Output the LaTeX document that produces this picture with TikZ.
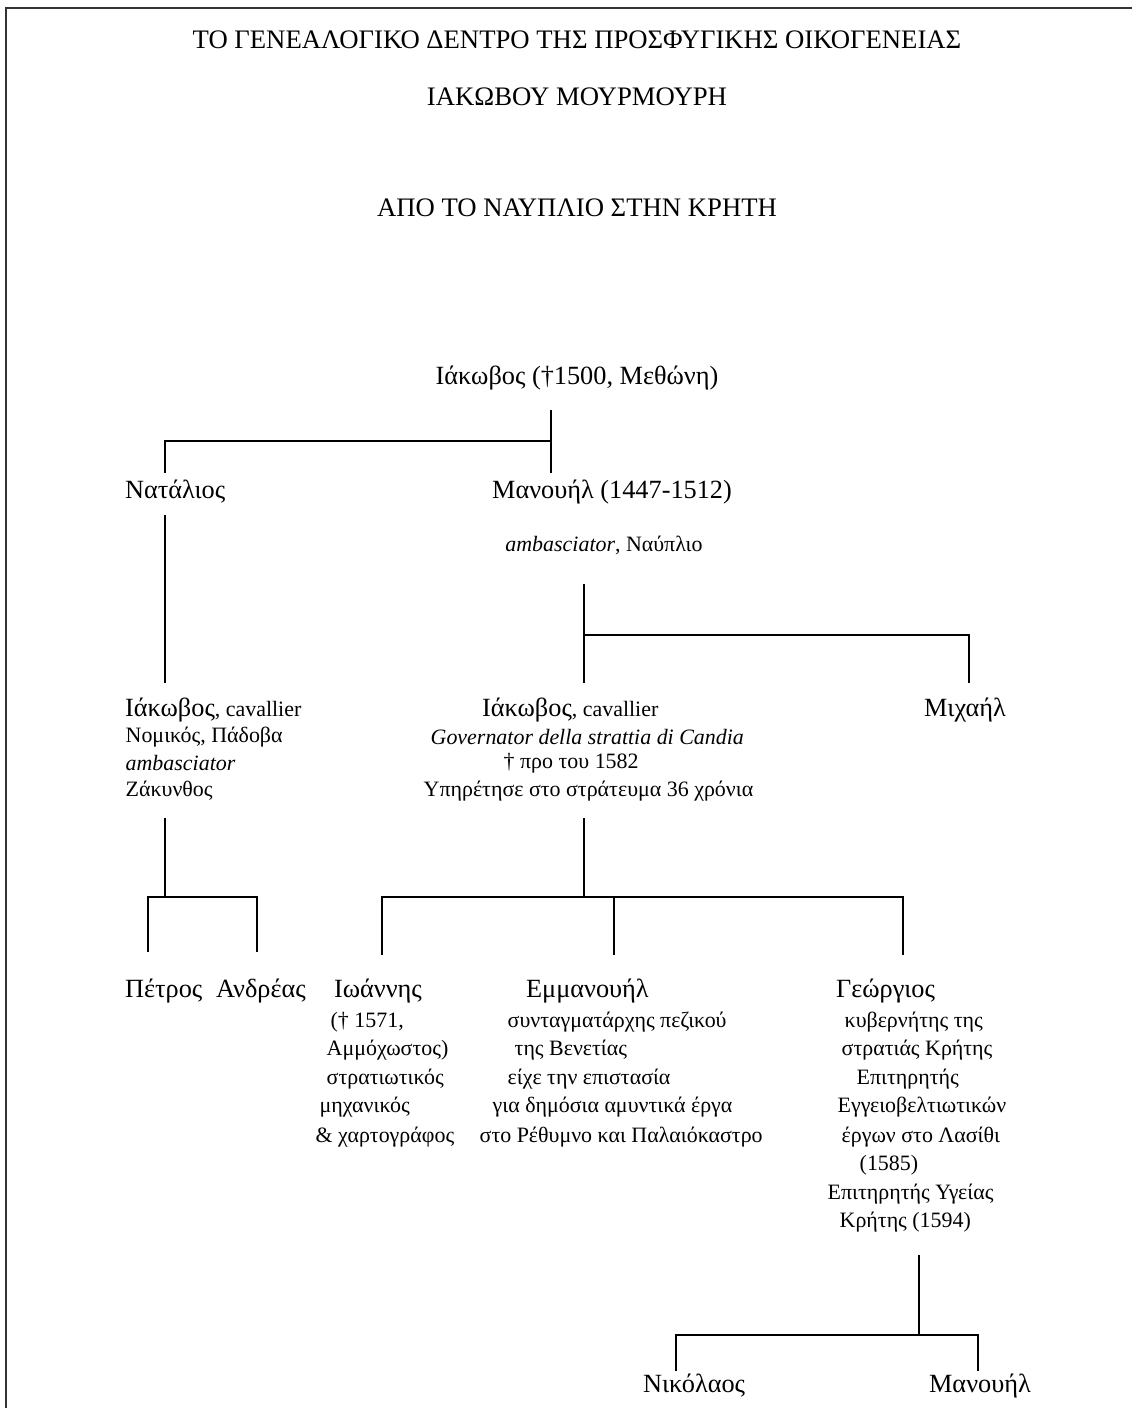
\documentclass[tikz,border=0pt]{standalone}
\usepackage{fontspec}
\setmainfont{Liberation Serif}
\usetikzlibrary{positioning}
\newcommand\infosize{\fontsize{15.6}{18}\selectfont}

\begin{document}
\begin{tikzpicture}[x=0.025cm, y=-0.025cm,
  heading/.style={font=\fontsize{19}{22}\selectfont},
  person/.style={font=\fontsize{18.7}{22}\selectfont, inner sep=2pt},
  info/.style={font=\infosize, inner sep=1pt, anchor=west},
  link/.style={line width=1.2pt},
  frame/.style={line width=1.6pt, black!80}]
\useasboundingbox (0,0) rectangle (1132,1408);
\draw[frame] (6,1408) -- (6,8) -- (1132,8);

% titles
\node[heading] (title-1) at (577,40) {ΤΟ ΓΕΝΕΑΛΟΓΙΚΟ ΔΕΝΤΡΟ ΤΗΣ ΠΡΟΣΦΥΓΙΚΗΣ ΟΙΚΟΓΕΝΕΙΑΣ};
\node[heading] (title-2) at (577,97) {ΙΑΚΩΒΟΥ ΜΟΥΡΜΟΥΡΗ};
\node[heading] (title-3) at (577,208) {ΑΠΟ ΤΟ ΝΑΥΠΛΙΟ ΣΤΗΝ ΚΡΗΤΗ};

% generation 1
\node[person] (iakovos-0) at (577,378) {Ιάκωβος (†1500, Μεθώνη)};

% generation 2
\node[person, anchor=west] (natalios) at (122,492) {Νατάλιος};
\node[person] (manouil-0) at (612,492) {Μανουήλ (1447-1512)};
\node[info, anchor=center] (manouil-0-info) at (604,545) {\textit{ambasciator}, Ναύπλιο};

% generation 3
\node[person, anchor=west] (iakovos-1) at (122,710) {Ιάκωβος{\infosize, cavallier}};
\foreach \y/\t [count=\i] in {737/{Νομικός, Πάδοβα}, 763/\textit{ambasciator}, 791/Ζάκυνθος}
  \node[info] (iakovos-1-\i) at (124,\y) {\t};
\node[person, anchor=west] (iakovos-2) at (479,710) {Ιάκωβος{\infosize, cavallier}};
\foreach \x/\y/\t [count=\i] in {429/737/\textit{Governator della strattia di Candia},
    502/763/† προ του 1582, 422/791/Υπηρέτησε στο στράτευμα 36 χρόνια}
  \node[info] (iakovos-2-\i) at (\x,\y) {\t};
\node[person] (michail) at (965,710) {Μιχαήλ};

% generation 4
\node[person, anchor=west] (petros) at (122,991) {Πέτρος};
\node[person, anchor=west] (andreas) at (213,991) {Ανδρέας};
\node[person, anchor=west] (ioannis) at (331,991) {Ιωάννης};
\foreach \x/\y/\t [count=\i] in {329/1022/{(† 1571,}, 325/1050/Αμμόχωστος), 325/1079/στρατιωτικός,
    318/1107/μηχανικός, 314/1137/\& χαρτογράφος}
  \node[info] (ioannis-\i) at (\x,\y) {\t};
\node[person, anchor=west] (emmanouil) at (523,991) {Εμμανουήλ};
\foreach \x/\y/\t [count=\i] in {506/1022/συνταγματάρχης πεζικού, 513/1050/της Βενετίας,
    506/1079/είχε την επιστασία, 491/1107/για δημόσια αμυντικά έργα, 478/1137/στο Ρέθυμνο και Παλαιόκαστρο}
  \node[info] (emmanouil-\i) at (\x,\y) {\t};
\node[person, anchor=west] (georgios) at (833,991) {Γεώργιος};
\foreach \x/\y/\t [count=\i] in {843/1022/κυβερνήτης της, 840/1050/στρατιάς Κρήτης, 855/1079/Επιτηρητής,
    836/1107/Εγγειοβελτιωτικών, 840/1137/έργων στο Λασίθι, 858/1165/(1585),
    826/1194/Επιτηρητής Υγείας, 838/1222/Κρήτης (1594)}
  \node[info] (georgios-\i) at (\x,\y) {\t};

% generation 5
\node[person, anchor=west] (nikolaos) at (640,1386) {Νικόλαος};
\node[person, anchor=west] (manouil-1) at (926,1386) {Μανουήλ};

% junctions
\coordinate (j0) at (551,441);   \coordinate (j0-l) at (165,441);
\coordinate (j2) at (584,635);   \coordinate (j2-r) at (969,635);
\coordinate (j3) at (165,897);   \coordinate (j3-l) at (148,897);   \coordinate (j3-r) at (257,897);
\coordinate (j4) at (584,897);   \coordinate (j4-l) at (382,897);   \coordinate (j4-m) at (614,897);
\coordinate (j4-r) at (903,897);
\coordinate (j5) at (919,1335);  \coordinate (j5-l) at (676,1335);  \coordinate (j5-r) at (978,1335);

% connectors
\draw[link, shorten <=12pt, shorten >=3pt] (j0 |- iakovos-0.south) -- (j0 |- manouil-0.north);
\draw[link, shorten >=3pt] (j0) -- (j0-l) -- (j0-l |- natalios.north);
\draw[link, shorten <=6pt, shorten >=8.5pt] (j0-l |- natalios.south) -- (j0-l |- iakovos-1.north);

\draw[link, shorten <=20pt, shorten >=8.5pt] (j2 |- manouil-0-info.south) -- (j2 |- iakovos-2.north);
\draw[link, shorten >=8.5pt] (j2) -- (j2-r) -- (j2-r |- michail.north);

\draw[link, shorten <=11pt] (j3 |- iakovos-1-3.south) -- (j3);
\draw[link, shorten <=17pt, shorten >=17pt] (j3-l |- petros.north) -- (j3-l) -- (j3-r) -- (j3-r |- andreas.north);

\draw[link, shorten <=11pt] (j4 |- iakovos-2-3.south) -- (j4);
\draw[link, shorten <=15pt, shorten >=15pt] (j4-l |- ioannis.north) -- (j4-l) -- (j4-r) -- (j4-r |- georgios.north);
\draw[link, shorten >=15pt] (j4-m) -- (j4-m |- emmanouil.north);

\draw[link, shorten <=15pt] (j5 |- georgios-8.south) -- (j5);
\draw[link] (j5-l |- nikolaos.north) -- (j5-l) -- (j5-r) -- (j5-r |- manouil-1.north);
\end{tikzpicture}
\end{document}
